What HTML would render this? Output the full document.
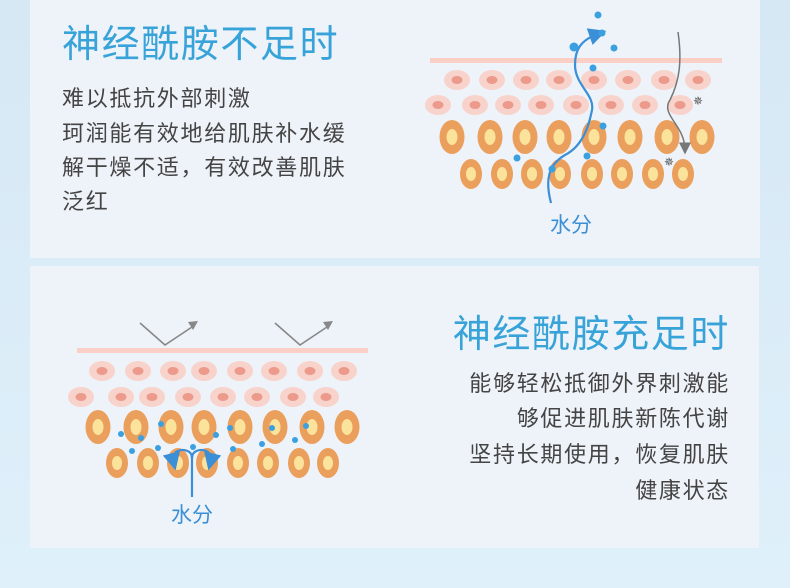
<!DOCTYPE html>
<html><head><meta charset="utf-8"><style>
html,body{margin:0;padding:0;width:790px;height:588px;overflow:hidden;background:linear-gradient(180deg,#d6e8f4,#dff0fb);}
svg{display:block}
text{font-family:"Liberation Sans","Noto Sans CJK SC",sans-serif}
</style></head><body>
<svg width="790" height="588" viewBox="0 0 790 588" xmlns="http://www.w3.org/2000/svg">
<defs>
<g id="pk"><ellipse rx="13" ry="10" fill="#f8d3cb"/><ellipse rx="5.5" ry="4" fill="#ec9a8c"/></g>
<g id="ob"><ellipse rx="12.5" ry="17" fill="#eb9f5c"/><ellipse rx="5.5" ry="8" fill="#fbe39c"/></g>
<g id="os"><ellipse rx="11" ry="15" fill="#eb9f5c"/><ellipse rx="5" ry="7" fill="#fbe39c"/></g>
<marker id="ab" markerWidth="8" markerHeight="8" refX="5" refY="4" orient="auto"><path d="M0,0 L8,4 L0,8 z" fill="#3a8fd6"/></marker>
<marker id="ag" markerWidth="8" markerHeight="8" refX="5" refY="4" orient="auto"><path d="M0,0 L8,4 L0,8 z" fill="#777"/></marker>
</defs>
<rect x="30" y="0" width="730" height="258" fill="#eef3f9"/>
<rect x="30" y="266" width="729" height="282" fill="#eef3f9"/>

<text x="62" y="57" font-size="38" fill="#38a3d9" letter-spacing="1.6">神经酰胺不足时</text>
<g font-size="22" fill="#444" letter-spacing="1.7">
<text x="62" y="106">难以抵抗外部刺激</text>
<text x="62" y="141">珂润能有效地给肌肤补水缓</text>
<text x="62" y="175">解干燥不适，有效改善肌肤</text>
<text x="62" y="209">泛红</text>
</g>

<rect x="430" y="58" width="292" height="5" fill="#f9cfc6"/>
<g>
<use href="#pk" x="457" y="80"/><use href="#pk" x="492" y="80"/><use href="#pk" x="526" y="80"/><use href="#pk" x="559" y="80"/><use href="#pk" x="594" y="80"/><use href="#pk" x="628" y="80"/><use href="#pk" x="664" y="80"/><use href="#pk" x="698" y="80"/>
<use href="#pk" x="438" y="105"/><use href="#pk" x="475" y="105"/><use href="#pk" x="508" y="105"/><use href="#pk" x="541" y="105"/><use href="#pk" x="576" y="105"/><use href="#pk" x="611" y="105"/><use href="#pk" x="645" y="105"/><use href="#pk" x="680" y="105"/>
<use href="#ob" x="452" y="137"/><use href="#ob" x="490" y="137"/><use href="#ob" x="525" y="137"/><use href="#ob" x="559" y="137"/><use href="#ob" x="594" y="137"/><use href="#ob" x="630" y="137"/><use href="#ob" x="667" y="137"/><use href="#ob" x="702" y="137"/>
<use href="#os" x="471" y="174"/><use href="#os" x="502" y="174"/><use href="#os" x="532" y="174"/><use href="#os" x="560" y="174"/><use href="#os" x="592" y="174"/><use href="#os" x="622" y="174"/><use href="#os" x="653" y="174"/><use href="#os" x="683" y="174"/>
</g>
<path d="M551,203 C545,180 548,165 565,155 C585,145 590,120 592,110 C595,95 575,85 575,65 C575,50 580,40 600,33" fill="none" stroke="#3a8fd6" stroke-width="2.2" marker-end="url(#ab)"/>
<path d="M678,32 C682,60 680,80 670,100 C660,115 685,125 685,150" fill="none" stroke="#777" stroke-width="1.5" marker-end="url(#ag)"/>
<g fill="#3aa0e0">
<circle cx="598" cy="15" r="3.5"/><circle cx="602" cy="33" r="3.5"/><circle cx="574" cy="47" r="4.5"/><circle cx="614" cy="48" r="3.5"/><circle cx="593" cy="68" r="3.5"/><circle cx="603" cy="126" r="3.5"/><circle cx="517" cy="158" r="3.5"/><circle cx="587" cy="156" r="3.5"/><circle cx="552" cy="169" r="3.5"/>
</g>
<text x="698" y="105" font-size="12" fill="#555" text-anchor="middle">✵</text>
<text x="669" y="166" font-size="12" fill="#555" text-anchor="middle">✵</text>
<text x="571" y="232" font-size="21" fill="#3a8fd6" text-anchor="middle">水分</text>

<text x="730" y="347" font-size="38" fill="#38a3d9" text-anchor="end" letter-spacing="1.6">神经酰胺充足时</text>
<g font-size="22" fill="#444" text-anchor="end" letter-spacing="1.7">
<text x="730" y="391">能够轻松抵御外界刺激能</text>
<text x="730" y="426">够促进肌肤新陈代谢</text>
<text x="730" y="462">坚持长期使用，恢复肌肤</text>
<text x="730" y="498">健康状态</text>
</g>
<rect x="77" y="348" width="291" height="5" fill="#f9cfc6"/>
<g>
<use href="#pk" x="102" y="371"/><use href="#pk" x="138" y="371"/><use href="#pk" x="173" y="371"/><use href="#pk" x="204" y="371"/><use href="#pk" x="240" y="371"/><use href="#pk" x="274" y="371"/><use href="#pk" x="310" y="371"/><use href="#pk" x="344" y="371"/>
<use href="#pk" x="81" y="397"/><use href="#pk" x="121" y="397"/><use href="#pk" x="152" y="397"/><use href="#pk" x="188" y="397"/><use href="#pk" x="223" y="397"/><use href="#pk" x="257" y="397"/><use href="#pk" x="293" y="397"/><use href="#pk" x="326" y="397"/>
<use href="#ob" x="98" y="427"/><use href="#ob" x="136" y="427"/><use href="#ob" x="171" y="427"/><use href="#ob" x="204" y="427"/><use href="#ob" x="240" y="427"/><use href="#ob" x="275" y="427"/><use href="#ob" x="312" y="427"/><use href="#ob" x="347" y="427"/>
<use href="#os" x="117" y="463"/><use href="#os" x="148" y="463"/><use href="#os" x="178" y="463"/><use href="#os" x="207" y="463"/><use href="#os" x="238" y="463"/><use href="#os" x="268" y="463"/><use href="#os" x="299" y="463"/><use href="#os" x="328" y="463"/>
</g>
<g fill="none" stroke="#888" stroke-width="1.6">
<path d="M140,323 L165,345 L192,327"/><path d="M275,323 L300,345 L327,327"/>
</g>
<path d="M188,322 L198,321 L193,330 z" fill="#888"/><path d="M323,322 L333,321 L328,330 z" fill="#888"/>
<g fill="none" stroke="#3a8fd6" stroke-width="2.2">
<path d="M192,497 L192,458 C192,450 182,448 176,452 C172,456 173,460 174,464" marker-end="url(#ab)"/>
<path d="M192,458 C192,450 202,448 208,452 C212,456 211,460 210,464" marker-end="url(#ab)"/>
</g>
<g fill="#3aa0e0">
<circle cx="121" cy="434" r="3"/><circle cx="141" cy="438" r="3"/><circle cx="161" cy="424" r="3"/><circle cx="132" cy="451" r="3"/><circle cx="158" cy="448" r="3"/><circle cx="193" cy="447" r="3"/><circle cx="216" cy="435" r="3"/><circle cx="230" cy="428" r="3"/><circle cx="233" cy="449" r="3"/><circle cx="262" cy="444" r="3"/><circle cx="272" cy="428" r="3"/><circle cx="295" cy="440" r="3"/><circle cx="306" cy="426" r="3"/>
</g>
<text x="192" y="522" font-size="21" fill="#3a8fd6" text-anchor="middle">水分</text>
</svg>
</body></html>
